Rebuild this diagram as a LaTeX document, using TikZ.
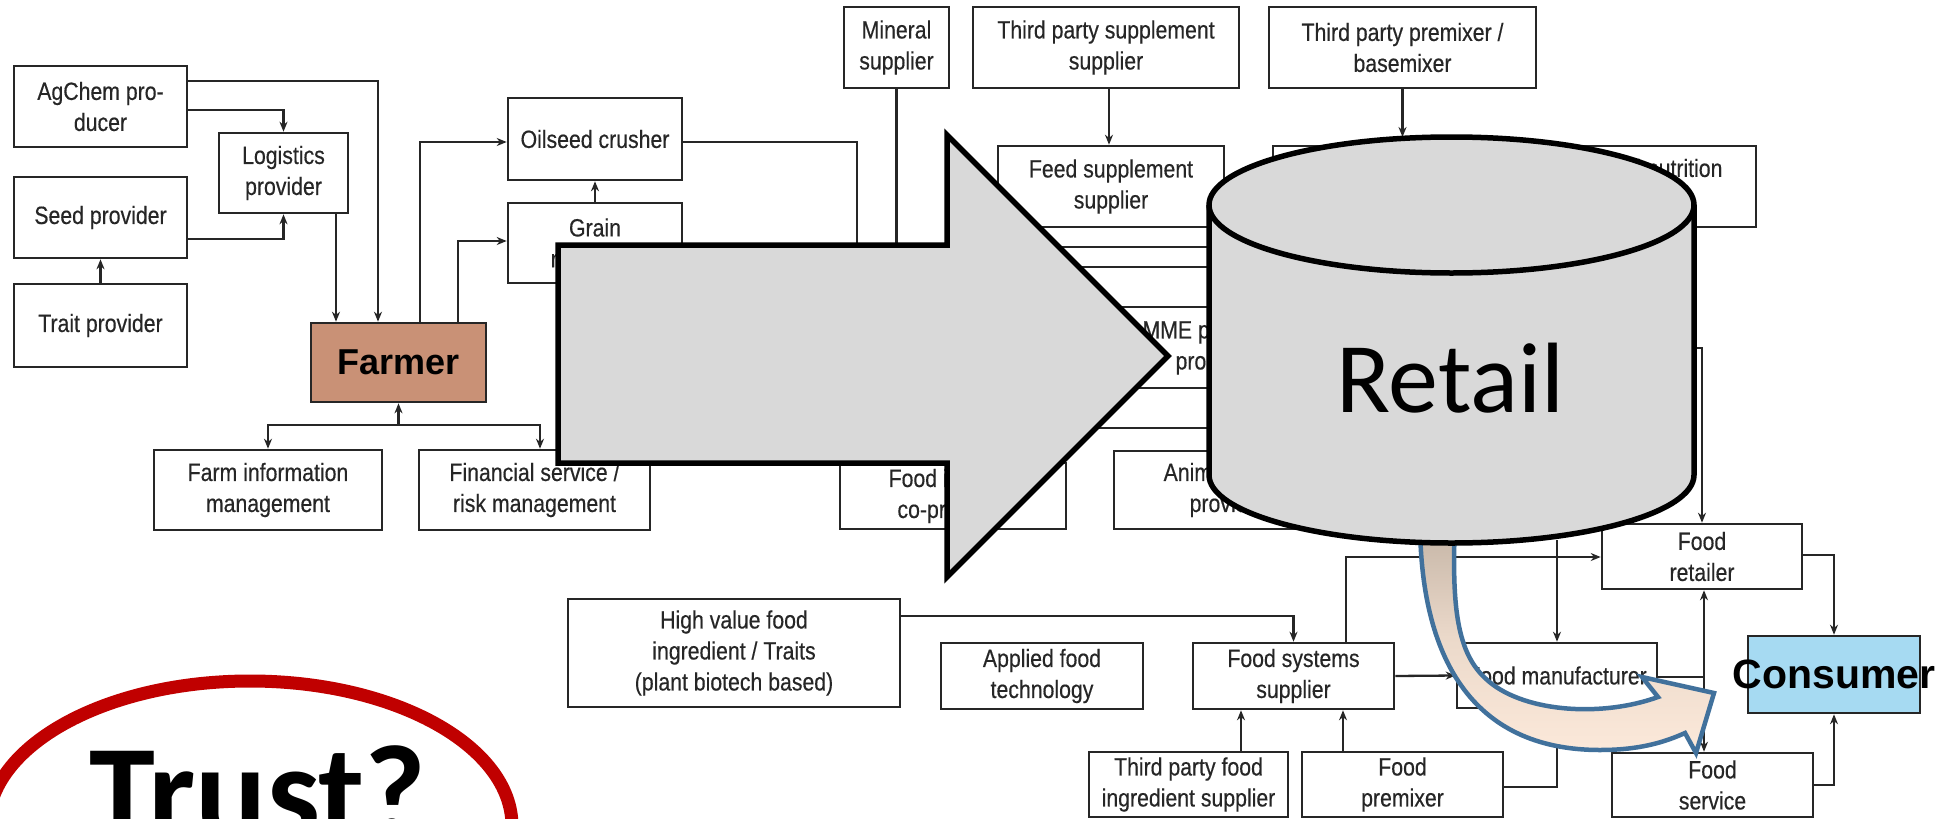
\documentclass[tikz,border=0pt]{standalone}
\usepackage{fontspec}
\usetikzlibrary{arrows.meta}
\newfontfamily\boxfont{Liberation Sans}[FakeStretch=0.85,FakeBold=0.35]
\newfontfamily\labelfont{Liberation Sans}
\newfontfamily\calfont{Carlito}
\definecolor{ink}{HTML}{262626}
\definecolor{farmerfill}{HTML}{C99176}
\definecolor{consumerfill}{HTML}{A6DAF2}
\definecolor{blockgray}{HTML}{D9D9D9}
\definecolor{curveline}{HTML}{41719C}
\definecolor{curvetop}{HTML}{C3B3A4}
\definecolor{curvebottom}{HTML}{FCE9DA}
\definecolor{trustred}{HTML}{C00000}

% box from its corners: [style]{name}{x1}{y1}{x2}{y2}{text}
\newcommand\mkbox[7][]{%
  \pgfmathsetmacro\bw{#5-#3}\pgfmathsetmacro\bh{#6-#4}%
  \pgfmathsetmacro\bcx{(#3+#5)/2}\pgfmathsetmacro\bcy{(#4+#6)/2}%
  \node[bx,#1,minimum width=\bw pt,minimum height=\bh pt] (#2) at (\bcx,\bcy) {#7};}

\begin{document}
\begin{tikzpicture}[x=1pt,y=-1pt,
  bx/.style={draw=ink, line width=2.6pt, fill=white, inner sep=0pt, align=center,
    text=ink, font=\boxfont\fontsize{25}{31}\selectfont},
  ln/.style={draw=ink, line width=2.3pt},
  ar/.style={-{Stealth[length=10pt,width=8pt]}},
  block/.style={draw=black, line width=5.5pt, fill=blockgray, line join=miter}]
\useasboundingbox (0,0) rectangle (1949,819);
\fill[white] (0,0) rectangle (1949,819);
\clip (0,0) rectangle (1949,819);

% ---------- input side ----------
\mkbox{agchem}{14}{66}{187}{147}{AgChem pro-\\ducer}
\mkbox{logistics}{219}{133}{348}{213}{Logistics\\provider}
\mkbox{seed}{14}{177}{187}{258}{Seed provider}
\mkbox{trait}{14}{284}{187}{367}{Trait provider}
\mkbox[fill=farmerfill,text=black,font=\labelfont\bfseries\fontsize{36}{40}\selectfont]{farmer}{311}{323}{486}{402}{Farmer}
\mkbox{farminfo}{154}{450}{382}{530}{Farm information\\management}
\mkbox{financial}{419}{450}{650}{530}{Financial service /\\risk management}
\mkbox{oilseed}{508}{98}{682}{180}{Oilseed crusher}
\mkbox{grain}{508}{203}{682}{283}{Grain\\merchant}

% ---------- feed side ----------
\mkbox{mineral}{844}{7}{949}{88}{Mineral\\supplier}
\mkbox{tpsupp}{973}{7}{1239}{88}{Third party supplement\\supplier}
\mkbox{tppremix}{1269}{7}{1536}{88}{Third party premixer /\\basemixer}
\mkbox{feedsupp}{998}{146}{1224}{227}{Feed supplement\\supplier}
\mkbox{nutrition}{1273}{146}{1756}{227}{}
\node[font=\boxfont\fontsize{25}{31}\selectfont, text=ink, anchor=east] (nutritiontext) at (1726,168) {Animal nutrition};
\mkbox{mme}{1095}{307}{1340}{388}{MME premixer /\\producer}
\mkbox{coprod}{840}{463}{1066}{529}{Food industry\\co-products}
\mkbox{animal}{1114}{451}{1342}{529}{Animal health\\provider}

% ---------- food side ----------
\mkbox{highval}{568}{599}{900}{707}{High value food\\ingredient / Traits\\(plant biotech based)}
\mkbox{applied}{941}{643}{1143}{709}{Applied food\\technology}
\mkbox{foodsys}{1193}{643}{1394}{709}{Food systems\\supplier}
\mkbox{tpfood}{1089}{752}{1288}{817}{Third party food\\ingredient supplier}
\mkbox{premixer}{1302}{752}{1503}{817}{Food\\premixer}
\mkbox{foodman}{1457}{643}{1657}{708}{Food manufacturer}
\mkbox{retailer}{1602}{524}{1802}{589}{Food\\retailer}
\mkbox{foodserv}{1612}{753}{1813}{817}{Food\\service}
\mkbox[fill=consumerfill]{consumer}{1748}{636}{1920}{713}{}
\node[font=\labelfont\bfseries\fontsize{41}{44}\selectfont, text=black] (consumertext) at (consumer.center) {Consumer};

% ---------- connectors: input side ----------
\draw[ln,ar] (agchem.east |- 0,81) -| (farmer.north -| 378,0);
\draw[ln,ar] (agchem.east |- 0,110) -| (logistics.north);
\draw[ln,ar] (seed.east |- 0,239) -| (logistics.south);
\draw[ln,ar] (trait.north) -- (seed.south);
\draw[ln,ar] (logistics.south -| 336,0) -- (farmer.north -| 336,0);
\draw[ln,ar] (farmer.north -| 420,0) |- (oilseed.west |- 0,142);
\draw[ln,ar] (farmer.north -| 458,0) |- (grain.west |- 0,241);
\draw[ln,ar] (grain.north) -- (oilseed.south);
\coordinate (fj) at (farmer.south |- 0,425);
\draw[ln,ar] (fj) -- (farmer.south);
\draw[ln,ar] (fj) -| (farminfo.north);
\draw[ln,ar] (fj) -| (financial.north -| 540,0);

% ---------- connectors: feed side ----------
\coordinate (crushdown) at (857,300);
\draw[ln] (oilseed.east |- 0,142) -| (crushdown);
\draw[ln] (mineral.south) -- (mineral.south |- 0,300);
\draw[ln,ar] (tpsupp.south -| 1109,0) -- (feedsupp.north -| 1109,0);
\coordinate (cyltop) at (1402,137);
\draw[ln,ar] (tppremix.south |- 0,88) -- (tppremix.south |- cyltop);
\coordinate (la1) at (1000,247); \coordinate (lb1) at (1300,247);
\coordinate (la2) at (1000,267); \coordinate (lb2) at (1300,267);
\coordinate (la3) at (1000,428); \coordinate (lb3) at (1300,428);
\draw[ln] (la1) -- (lb1);
\draw[ln] (la2) -- (lb2);
\draw[ln] (la3) -- (lb3);

% ---------- connectors: food side ----------
\coordinate (retailfeed) at (1600,348);
\draw[ln,ar] (retailfeed) -| (retailer.north);
\draw[ln,ar] (highval.east |- 0,616) -| (foodsys.north);
\draw[ln,ar] (tpfood.north -| 1241,0) -- (foodsys.south -| 1241,0);
\draw[ln,ar] (premixer.north -| 1343,0) -- (foodsys.south -| 1343,0);
\draw[ln,ar] (foodsys.east) -- (foodman.west);
\draw[ln,ar] (foodsys.north -| 1346,0) |- (retailer.west |- 0,557);
\coordinate (mantop) at (foodman.north |- 0,540);
\draw[ln,ar] (mantop) -- (foodman.north);
\draw[ln,ar] (premixer.east |- 0,787) -| (foodman.south);
\coordinate (mj) at (1704,677);
\draw[ln] (foodman.east |- mj) -- (mj);
\draw[ln,ar] (mj) -- (retailer.south -| mj);
\draw[ln,ar] (mj) -- (foodserv.north -| mj);
\draw[ln,ar] (retailer.east |- 0,555) -| (consumer.north);
\draw[ln,ar] (foodserv.east |- 0,785) -| (consumer.south);

% ---------- big block arrow ----------
\draw[block] (558,245) -- (947,245) -- (947,135) -- (1168,356) -- (947,577)
  -- (947,463) -- (558,463) -- cycle;

% ---------- curved arrow out of the retail drum ----------
\path[draw=curveline, line width=4.5pt, line join=miter,
      top color=curvetop, bottom color=curvebottom, middle color=curvebottom!70!curvetop]
  (1420,520) .. controls (1420,655) and (1470,750) .. (1600,750)
  .. controls (1640,750) and (1665,742) .. (1685,733)
  -- (1696,753) -- (1714,693) -- (1642,677) -- (1658,697)
  .. controls (1600,718) and (1520,712) .. (1485,678)
  .. controls (1455,650) and (1452,600) .. (1455,520) -- cycle;

% ---------- retail drum ----------
\draw[line width=5.5pt, fill=blockgray]
  (1209,205) -- (1209,475) arc[start angle=180,end angle=360,x radius=242.5pt,y radius=68pt]
  -- (1694,205) arc[start angle=0,end angle=180,x radius=242.5pt,y radius=68pt] -- cycle;
\draw[line width=5.5pt]
  (1209,205) arc[start angle=180,end angle=360,x radius=242.5pt,y radius=68pt];
\node[font=\calfont\fontsize{100}{100}\selectfont, anchor=base] (retail) at (1450,412) {Retail};

% ---------- trust ellipse ----------
\draw[trustred, line width=13pt] (250,826) ellipse[x radius=262pt, y radius=145pt];
\node[font=\calfont\bfseries\fontsize{133}{133}\selectfont, anchor=base] (trust) at (258,837) {Trust?};
\end{tikzpicture}
\end{document}
